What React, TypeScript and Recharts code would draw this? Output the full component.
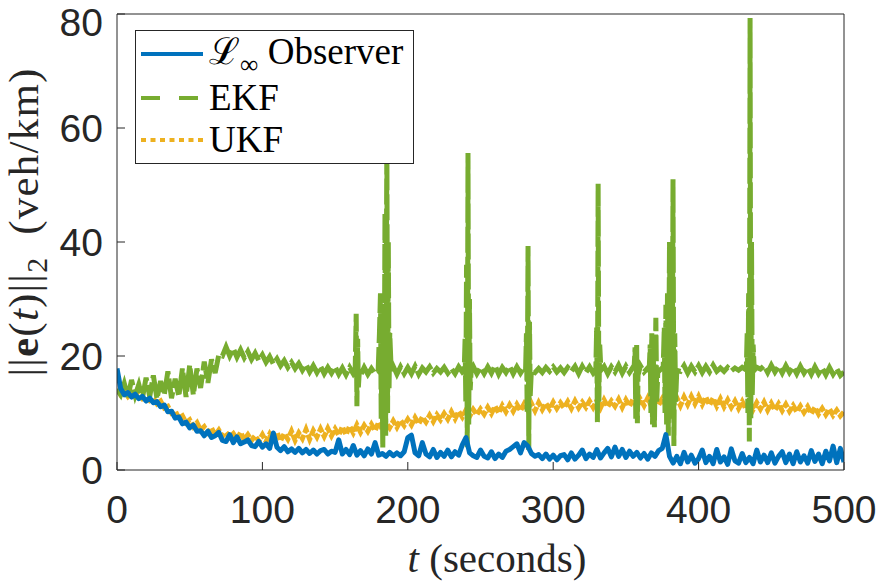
import React from 'react';
import { LineChart, Line, XAxis, YAxis, Legend } from 'recharts';

// Sampling interval of the logged error norms (seconds)
const T_STEP = 2.5;

// ||e(t)||_2 of the L-infinity observer, one value every T_STEP seconds (t = 0 … 500)
const observerErr = [
  17.8, 14.3, 13.2, 13.6, 12.8, 13.3, 12.5, 12.9, 12.1, 12.6,
  11.8, 12.0, 11.1, 11.4, 10.2, 10.3, 9.1, 9.3, 8.1, 8.4,
  7.4, 7.9, 6.8, 6.9, 6.0, 6.8, 5.7, 6.0, 6.6, 5.2,
  5.0, 6.2, 4.8, 5.8, 4.6, 4.9, 5.3, 4.3, 4.1, 5.0,
  4.0, 4.6, 3.8, 6.5, 4.0, 3.4, 4.1, 3.2, 3.7, 3.1,
  3.8, 3.0, 3.6, 2.9, 3.5, 2.8, 3.4, 3.6, 2.8, 3.3,
  3.1, 5.3, 2.8, 3.6, 2.7, 4.3, 2.6, 3.4, 2.5, 3.7,
  2.8, 4.8, 2.6, 2.9, 2.4, 3.1, 2.5, 3.0, 2.5, 3.2,
  5.7, 6.1, 3.0, 2.5, 4.8, 2.8, 2.3, 3.6, 2.2, 3.1,
  2.4, 3.5, 2.3, 3.2, 2.6, 4.4, 5.7, 3.0, 2.5, 2.2,
  3.5, 2.4, 2.1, 3.2, 2.0, 2.8, 2.2, 3.3, 3.6, 4.1,
  4.6, 3.0, 4.8, 4.2, 2.9, 2.4, 2.7, 2.0, 2.8, 1.9,
  2.6, 1.8, 2.5, 2.7, 1.8, 3.0, 1.9, 2.6, 3.5, 2.0,
  2.8, 2.2, 3.6, 2.1, 3.0, 3.8, 2.3, 4.0, 2.4, 3.6,
  2.2, 3.3, 2.4, 3.1, 2.1, 2.9, 1.9, 3.0, 2.4, 3.4,
  3.8, 6.2, 2.4, 1.2, 2.4, 1.1, 3.1, 1.4, 2.6, 1.2,
  2.0, 3.5, 1.3, 2.4, 1.1, 3.6, 1.4, 2.3, 1.0, 3.7,
  1.6, 1.2, 2.9, 1.3, 2.2, 1.1, 3.5, 1.4, 2.6, 1.3,
  3.0, 1.2, 2.4, 3.2, 1.3, 2.8, 1.1, 3.2, 1.4, 2.5,
  1.2, 3.4, 1.5, 2.8, 1.1, 3.3, 1.6, 4.2, 1.3, 3.8,
  1.4,
];

// ||e(t)||_2 of the unscented Kalman filter
const ukfErr = [
  14.2, 13.2, 13.8, 12.9, 13.6, 12.8, 13.3, 12.5, 12.9, 12.2,
  12.6, 11.6, 12.1, 10.9, 11.2, 10.0, 10.4, 9.1, 9.5, 8.3,
  8.8, 7.6, 8.3, 7.0, 7.6, 6.6, 7.4, 6.1, 7.0, 5.9,
  6.6, 5.8, 6.4, 5.4, 6.6, 5.3, 6.2, 5.2, 6.0, 5.1,
  6.2, 5.0, 6.3, 5.2, 6.6, 5.1, 6.4, 5.4, 6.8, 5.2,
  6.5, 5.5, 7.1, 5.4, 6.9, 5.8, 7.2, 5.9, 7.3, 6.0,
  7.2, 6.1, 7.6, 6.2, 7.7, 6.5, 7.9, 6.6, 7.8, 6.8,
  8.0, 6.9, 8.4, 7.1, 8.3, 7.4, 8.6, 7.5, 8.7, 7.8,
  8.9, 7.9, 9.2, 8.1, 9.3, 8.4, 9.6, 8.5, 9.7, 8.8,
  9.9, 8.9, 10.2, 9.0, 10.3, 9.3, 10.5, 9.4, 10.6, 9.7,
  10.7, 9.8, 11.0, 9.9, 11.2, 10.0, 11.3, 10.2, 11.4, 10.3,
  11.5, 10.4, 11.6, 10.5, 11.7, 10.4, 11.8, 10.6, 11.7, 10.7,
  11.9, 10.8, 11.8, 10.9, 12.0, 10.8, 12.1, 10.9, 11.9, 11.0,
  12.1, 11.0, 12.2, 10.9, 12.3, 11.1, 12.1, 11.2, 12.4, 11.0,
  12.3, 11.2, 12.5, 11.1, 12.4, 11.3, 12.6, 11.2, 12.3, 11.4,
  12.5, 11.3, 12.6, 11.4, 12.7, 11.3, 12.8, 11.5, 12.9, 11.6,
  12.9, 11.5, 12.8, 11.4, 12.6, 11.2, 12.5, 11.1, 12.3, 11.0,
  12.1, 10.8, 12.0, 10.7, 11.9, 10.6, 11.8, 10.7, 11.9, 10.5,
  11.7, 10.5, 11.6, 10.4, 11.5, 10.3, 11.3, 10.2, 11.2, 10.1,
  11.1, 9.9, 11.0, 9.8, 10.8, 9.7, 10.7, 9.6, 10.5, 9.5,
  10.2,
];

// ||e(t)||_2 of the extended Kalman filter, regular samples
const ekfErr = [
  14.2, 13.2, 15.2, 12.8, 15.8, 13.1, 15.0, 12.6, 16.2, 12.9,
  16.6, 12.5, 15.6, 13.2, 17.3, 12.6, 16.0, 12.9, 17.8, 12.8,
  18.4, 13.2, 17.8, 14.4, 19.0, 15.3, 19.4, 17.0, 20.2, 20.0,
  21.6, 20.0, 21.3, 19.8, 21.1, 19.7, 20.8, 19.4, 20.5, 19.2,
  20.2, 18.9, 19.9, 18.6, 19.5, 18.3, 19.2, 18.0, 18.9, 17.8,
  18.7, 17.5, 18.5, 17.2, 18.3, 17.1, 18.2, 16.9, 18.0, 17.0,
  18.1, 16.8, 17.9, 16.7, 18.0, 16.9, 17.9, 16.6, 18.0, 16.8,
  17.8, 16.9, 18.0, 17.0, 17.7, 17.1, 18.2, 16.8, 18.1, 16.9,
  18.0, 16.9, 18.2, 16.8, 17.9, 17.2, 18.1, 17.0, 17.8, 17.2,
  18.0, 17.0, 17.8, 16.9, 18.1, 17.2, 17.9, 17.0, 18.2, 16.9,
  18.0, 16.9, 18.1, 17.0, 18.3, 16.8, 18.0, 17.1, 18.2, 16.9,
  18.1, 17.0, 18.0, 16.9, 18.2, 17.1, 17.8, 17.1, 18.0, 17.3,
  18.1, 17.2, 17.9, 17.1, 18.0, 17.3, 18.2, 16.9, 18.2, 17.1,
  18.1, 17.0, 18.3, 17.1, 18.2, 16.9, 18.1, 17.2, 18.4, 17.0,
  18.2, 17.1, 18.1, 17.0, 18.3, 17.2, 17.9, 17.2, 18.1, 17.3,
  17.9, 17.3, 18.2, 17.2, 18.1, 17.3, 18.3, 17.0, 18.2, 17.2,
  18.3, 17.1, 18.2, 17.2, 18.4, 17.3, 17.9, 17.3, 18.0, 17.4,
  17.9, 17.5, 18.0, 17.6, 18.1, 17.4, 18.0, 17.7, 18.3, 17.1,
  18.4, 17.2, 18.2, 17.0, 18.3, 17.1, 18.1, 16.9, 18.2, 17.0,
  18.0, 16.8, 18.1, 16.9, 17.9, 16.7, 18.0, 16.8, 17.8, 16.6,
  17.2,
];

// EKF divergence bursts, finely sampled: [t (s), ||e||_2]
const ekfBursts: [number, number][][] = [
  [[163.8, 17.4], [164.5, 27.4], [165.0, 11.2], [165.5, 23.0], [166.0, 14.5], [166.7, 17.5]],
  [[179.6, 17.3], [180.5, 24.0], [181.2, 31.0], [181.7, 9.0], [182.2, 20.0], [182.8, 3.9], [183.3, 28.0],
   [183.8, 12.0], [184.3, 45.0], [184.8, 6.0], [185.6, 58.0], [186.1, 10.0], [186.6, 40.0], [187.1, 14.0],
   [187.6, 24.0], [188.6, 17.4]],
  [[238.8, 17.5], [239.4, 23.0], [239.9, 12.0], [240.4, 36.0], [240.9, 4.0], [241.4, 55.6], [241.9, 8.0],
   [242.4, 30.0], [242.9, 14.0], [243.6, 17.6]],
  [[281.0, 17.5], [281.6, 24.0], [282.1, 10.0], [282.7, 39.3], [283.2, 3.5], [283.7, 26.0], [284.2, 13.0],
   [285.0, 17.5]],
  [[329.3, 17.6], [329.9, 25.0], [330.4, 8.4], [330.9, 50.2], [331.4, 12.0], [332.0, 22.0], [332.8, 17.5]],
  [[355.6, 17.6], [356.3, 21.5], [356.8, 9.0], [357.4, 22.0], [357.9, 8.2], [358.4, 18.0], [359.1, 17.4]],
  [[366.0, 17.5], [366.7, 22.0], [367.2, 10.0], [367.8, 24.0], [368.3, 8.0], [368.9, 20.0], [369.6, 7.5],
   [370.6, 26.7], [371.2, 12.0], [372.0, 17.6]],
  [[375.6, 17.5], [376.4, 25.0], [376.9, 10.0], [377.5, 29.0], [378.0, 8.0], [378.6, 31.0], [379.2, 6.0],
   [380.0, 40.0], [380.6, 12.0], [381.3, 30.0], [381.8, 9.0], [382.4, 51.0], [383.0, 4.2], [383.6, 24.0],
   [384.2, 12.0], [385.0, 17.5]],
  [[432.8, 17.6], [433.4, 24.0], [433.9, 10.0], [434.4, 31.0], [434.9, 5.0], [435.4, 79.3], [435.9, 9.0],
   [436.4, 40.0], [436.9, 13.0], [437.5, 22.0], [438.3, 17.5]],
];

const xTicks = [0, 100, 200, 300, 400, 500];
const yTicks = [0, 20, 40, 60, 80];

const COLORS = { observer: '#0072BD', ekf: '#77AC30', ukf: '#EDB120' };
const AXIS = '#262626';
const SANS = '"Liberation Sans", Arial, Helvetica, sans-serif';
const SERIF = '"Liberation Serif", "Times New Roman", "DejaVu Serif", serif';
const LINE_W = 5;

type Pt = { t: number; v: number };

const sampled = (vals: number[]): Pt[] => vals.map((v, i) => ({ t: i * T_STEP, v }));

const observerData = sampled(observerErr);
const ukfData = sampled(ukfErr);

// Merge regular EKF samples with the burst samples (bursts replace the samples they cover)
const ekfData: Pt[] = (() => {
  const windows = ekfBursts.map((b) => [b[0][0], b[b.length - 1][0]]);
  const base = sampled(ekfErr).filter((p) => !windows.some(([a, b]) => p.t >= a && p.t <= b));
  const extra = ekfBursts.flat().map(([t, v]) => ({ t, v }));
  return [...base, ...extra].sort((a, b) => a.t - b.t);
})();

const legendRows = [
  {
    key: 'observer',
    color: COLORS.observer,
    dash: undefined as string | undefined,
    label: (
      <span>
        ℒ<span style={{ fontSize: '0.7em', position: 'relative', top: '0.35em' }}>∞</span> Observer
      </span>
    ),
  },
  { key: 'ekf', color: COLORS.ekf, dash: '19 19', label: <span>EKF</span> },
  { key: 'ukf', color: COLORS.ukf, dash: '5 4.5', label: <span>UKF</span> },
];

const LegendBox = () => (
  <div
    style={{
      width: 279,
      height: 134,
      boxSizing: 'border-box',
      border: `1px solid ${AXIS}`,
      background: '#fff',
      position: 'relative',
      fontFamily: SERIF,
      fontSize: 37,
      color: '#000',
    }}
  >
    {legendRows.map((r, i) => (
      <div
        key={r.key}
        style={{
          position: 'absolute',
          left: 5,
          top: [23, 67, 109][i] - 22,
          height: 44,
          display: 'flex',
          alignItems: 'center',
          whiteSpace: 'nowrap',
        }}
      >
        <svg width={62} height={10} style={{ display: 'block' }}>
          <line x1={0} x2={62} y1={5} y2={5} stroke={r.color} strokeWidth={4} strokeDasharray={r.dash} />
        </svg>
        <span style={{ marginLeft: 6, lineHeight: '44px' }}>{r.label}</span>
      </div>
    ))}
  </div>
);

const YTitle = () => (
  <text
    transform="translate(38,222) rotate(-90)"
    textAnchor="middle"
    fontFamily={SERIF}
    fontSize={43}
    letterSpacing={1.2}
    fill={AXIS}
  >
    <tspan>||</tspan>
    <tspan fontWeight="bold">e</tspan>
    <tspan>(</tspan>
    <tspan fontStyle="italic">t</tspan>
    <tspan>)||</tspan>
    <tspan fontSize={30} dy={9}>2</tspan>
    <tspan dy={-9} dx={10}>{' (veh/km)'}</tspan>
  </text>
);

const XTitle = () => (
  <text x={497} y={572} textAnchor="middle" fontFamily={SERIF} fontSize={41} fill={AXIS}>
    <tspan fontStyle="italic">t</tspan>
    <tspan>{' (seconds)'}</tspan>
  </text>
);

const tickStyle = { fontFamily: SANS, fontSize: 39, fill: AXIS };

export default function App() {
  return (
    <div style={{ position: 'absolute', left: 0, top: 0, width: 880, height: 588, background: '#fff' }}>
      <LineChart width={880} height={588} margin={{ top: 13, right: 35, bottom: 117, left: 116 }}>
        <XAxis
          xAxisId="b"
          type="number"
          dataKey="t"
          domain={[0, 500]}
          ticks={xTicks}
          height={1}
          tickSize={-8}
          tickMargin={33}
          tick={tickStyle}
          stroke={AXIS}
          axisLine={{ stroke: AXIS }}
          tickLine={{ stroke: AXIS }}
          allowDataOverflow
          label={<XTitle />}
        />
        <XAxis
          xAxisId="top"
          orientation="top"
          type="number"
          dataKey="t"
          domain={[0, 500]}
          ticks={xTicks}
          height={1}
          tickSize={-8}
          tick={false}
          axisLine={{ stroke: AXIS }}
          tickLine={{ stroke: AXIS }}
          allowDataOverflow
        />
        <YAxis
          yAxisId="l"
          type="number"
          domain={[0, 80]}
          ticks={yTicks}
          width={1}
          tickSize={-8}
          tickMargin={22}
          tick={tickStyle}
          axisLine={{ stroke: AXIS }}
          tickLine={{ stroke: AXIS }}
          allowDataOverflow
          label={<YTitle />}
        />
        <YAxis
          yAxisId="right"
          orientation="right"
          type="number"
          domain={[0, 80]}
          ticks={yTicks}
          width={1}
          tickSize={-8}
          tick={false}
          axisLine={{ stroke: AXIS }}
          tickLine={{ stroke: AXIS }}
          allowDataOverflow
        />
        <Line
          xAxisId="b"
          yAxisId="l"
          data={ukfData}
          dataKey="v"
          name="UKF"
          type="linear"
          stroke={COLORS.ukf}
          strokeWidth={LINE_W}
          strokeDasharray="7 2"
          dot={false}
          activeDot={false}
          isAnimationActive={false}
        />
        <Line
          xAxisId="b"
          yAxisId="l"
          data={ekfData}
          dataKey="v"
          name="EKF"
          type="linear"
          stroke={COLORS.ekf}
          strokeWidth={LINE_W}
          strokeDasharray="26 4"
          dot={false}
          activeDot={false}
          isAnimationActive={false}
        />
        <Line
          xAxisId="b"
          yAxisId="l"
          data={observerData}
          dataKey="v"
          name="Observer"
          type="linear"
          stroke={COLORS.observer}
          strokeWidth={LINE_W}
          strokeLinejoin="round"
          dot={false}
          activeDot={false}
          isAnimationActive={false}
        />
        <Legend
          layout="vertical"
          align="center"
          verticalAlign="middle"
          content={() => <LegendBox />}
          wrapperStyle={{ left: 135, top: 30, width: 279, height: 134 }}
        />
      </LineChart>
    </div>
  );
}
